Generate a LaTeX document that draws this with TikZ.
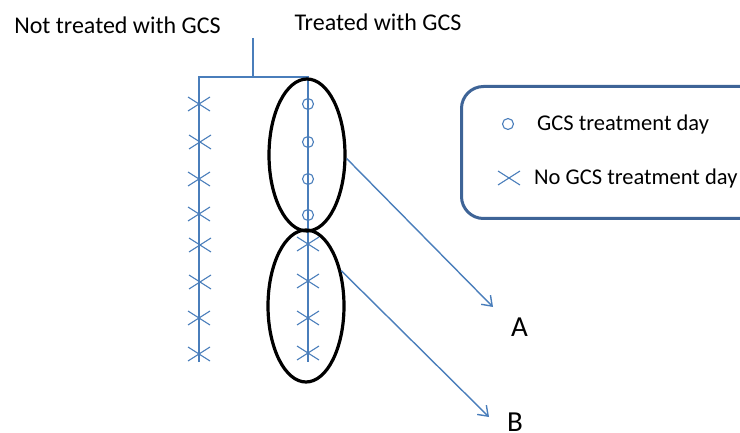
\documentclass[tikz,border=0pt]{standalone}
\usepackage{fontspec}
\setmainfont{Carlito}
\usetikzlibrary{shapes.geometric,arrows.meta}
\definecolor{lblue}{HTML}{4A7EBB}
\definecolor{bblue}{HTML}{3E6497}
\tikzset{
  blueline/.style={draw=lblue,line width=2.6pt},
  ovalbox/.style={ellipse,draw=black,line width=3.2pt,minimum width=76pt,minimum height=152pt,inner sep=0pt},
  ptr/.style={draw=lblue,line width=1.4pt,-{Straight Barb[length=9pt,width=13pt,line width=1.4pt]}},
  lbl/.style={font=\fontsize{24}{28}\selectfont,text=black,inner sep=0pt,anchor=base},
  leglbl/.style={font=\fontsize{22.5}{26}\selectfont,text=black,inner sep=0pt,anchor=base west},
  big/.style={font=\fontsize{29}{34}\selectfont,text=black,inner sep=0pt,anchor=base},
  xmk/.pic={\draw[lblue,line width=1.1pt] (-11,-7)--(11,7) (-11,7)--(11,-7);},
  omk/.pic={\draw[lblue,line width=1.1pt] (0,0) circle (5.5);},
}
\begin{document}
\begin{tikzpicture}[x=1pt,y=-1pt]
\useasboundingbox (0,0) rectangle (740,433);
\clip (0,0) rectangle (740,433);
\node[lbl] (nt) at (117.5,34) {Not treated with GCS};
\node[lbl] (tr) at (378,31) {Treated with GCS};
% tree
\coordinate (stemtop) at (253,38);
\coordinate (stembot) at (253,77);
\coordinate (lt) at (199,77);
\coordinate (rt) at (308,77);
\coordinate (lb) at (199,362);
\coordinate (rb) at (308,362);
\draw[blueline] (stemtop) -- (stembot);
\draw[blueline,line join=miter] (lb) -- (lt) -- (rt) -- (rb);
% left crosses
\foreach \y/\dx [count=\i] in {104/0,142/1,179/0,214/0,245/1,282/1,318/0,354/0}
  \pic (lx\i) at (199+\dx,\y) {xmk};
% right circles and crosses
\foreach \y [count=\i] in {104,142,179,215}
  \pic (ro\i) at (308,\y) {omk};
\foreach \y [count=\i] in {244,281,318,353}
  \pic (rx\i) at (308,\y) {xmk};
% ellipses
\node[ovalbox] (ellA) at (307,155) {};
\node[ovalbox] (ellB) at (306,306) {};
% targets
\node[big] (A) at (519.5,336) {A};
\node[big] (B) at (515,431) {B};
\coordinate (endA) at (493,307);
\coordinate (endB) at (489,417);
\draw[ptr] (ellA.-5) -- (endA);
\draw[ptr] (ellB.45) -- (endB);
% legend
\node[draw=bblue,line width=3pt,rounded corners=22pt,minimum width=320pt,minimum height=132pt,anchor=north west,inner sep=0pt] (leg) at (460,85) {};
\pic (legO) at (508,124) {omk};
\pic (legX) at (509,178) {xmk};
\node[leglbl] (lt1) at (537,131) {GCS treatment day};
\node[leglbl] (lt2) at (534,185) {No GCS treatment day};
\end{tikzpicture}
\end{document}
